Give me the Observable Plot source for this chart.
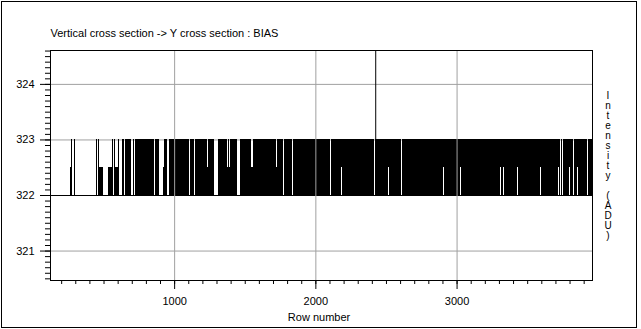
<!DOCTYPE html>
<html>
<head>
<meta charset="utf-8">
<script src="https://cdn.jsdelivr.net/npm/d3@7"></script>
<script src="https://cdn.jsdelivr.net/npm/@observablehq/plot@0.6"></script>
<style>
  body { margin: 0; background: #fff; }
  #wrap { position: relative; width: 641px; height: 329px; }
  #border { position: absolute; left: 1px; top: 1px; width: 636px; height: 327px; box-sizing: border-box; border: 1px solid #000; pointer-events: none; }
</style>
</head>
<body>
<div id="wrap"><div id="chart"></div><div id="border"></div></div>
<script>
// ---- texts ----
const title = "Vertical cross section -> Y cross section : BIAS";
const xLabel = "Row number";
const yLabel = "Intensity (ADU)";

// ---- scales / ticks ----
const rowRange = [121, 3959];
const valueRange = [320.47, 324.61];
const xTicks = [1000, 2000, 3000];
const yTicks = [321, 322, 323, 324];

// ---- signal levels ----
const baseValue = 322;
const highValue = 323;
const halfValue = 322.5;

// isolated switching columns in the left part (rows)
// "full" = switches 322 <-> 323, "low" = reaches only 322.5
const leftStart = [264, 273, 292, 450, 464, 471, 535, 559, 571, 583, 604, 628, 651, 706, 722, 864, 918, 926];
const leftEnd   = [273, 280, 299, 457, 471, 493, 559, 566, 583, 604, 611, 642, 694, 715, 855, 895, 926, 949];
const leftKind  = ["low","full","full","full","full","low","low","full","full","low","full","full","full","full","full","full","low","full"];

// dense switching zone and the gaps inside it (rows)
// "full" = no switching, "top" = only 322..322.5, "bottom" = only 322.5..323
const denseStart = 961;
const denseEnd = 3959;
const gapStart = [1103, 1143, 1230, 1285, 1372, 1387, 1443, 1545, 1718, 1774, 1838, 2101, 2179, 2415, 2514, 2606, 2904, 3025, 3308, 3330, 3429, 3592, 3720, 3734, 3746, 3798, 3826, 3852, 3923];
const gapEnd   = [1110, 1150, 1238, 1313, 1380, 1394, 1467, 1555, 1725, 1781, 1845, 2108, 2186, 2422, 2521, 2613, 2911, 3032, 3315, 3337, 3436, 3599, 3727, 3741, 3753, 3805, 3833, 3859, 3930];
const gapKind  = ["full","full","top","full","top","top","full","top","top","full","full","full","bottom","full","bottom","full","bottom","bottom","bottom","bottom","bottom","bottom","bottom","full","full","bottom","full","bottom","full"];

// single spike
const spikeRow = 2424;
const spikeValue = 325;

// ---- build segments ----
const segs = [];
leftStart.forEach((s, i) => {
  segs.push({x1: s, x2: leftEnd[i], y1: baseValue, y2: leftKind[i] === "low" ? halfValue : highValue});
});
let cursor = denseStart;
gapStart.forEach((s, i) => {
  segs.push({x1: cursor, x2: s, y1: baseValue, y2: highValue});
  if (gapKind[i] === "top") segs.push({x1: s, x2: gapEnd[i], y1: baseValue, y2: halfValue});
  if (gapKind[i] === "bottom") segs.push({x1: s, x2: gapEnd[i], y1: halfValue, y2: highValue});
  cursor = gapEnd[i];
});
segs.push({x1: cursor, x2: denseEnd, y1: baseValue, y2: highValue});

const baseline = rowRange.map(r => ({r, v: baseValue}));
const spike = [{r: spikeRow, v1: highValue, v2: spikeValue}];

const yMinor = d3.range(3205, 3247).map(d => d / 10);
const xMinor = d3.range(2, 40).map(d => d * 100);

const gridColor = "#a0a0a0";
const font = "Arial, 'Liberation Sans', sans-serif";

const chart = Plot.plot({
  width: 641,
  height: 329,
  marginLeft: 50,
  marginRight: 49,
  marginTop: 50,
  marginBottom: 49,
  style: {fontFamily: font, fontSize: "11px", color: "black", background: "white"},
  x: {domain: rowRange},
  y: {domain: valueRange},
  marks: [
    Plot.gridY(yTicks, {stroke: gridColor, strokeOpacity: 1}),
    Plot.rect(segs, {x1: "x1", x2: "x2", y1: "y1", y2: "y2", fill: "black", shapeRendering: "crispEdges"}),
    Plot.line(baseline, {x: "r", y: "v", stroke: "black", strokeWidth: 1}),
    Plot.ruleX(spike, {x: "r", y1: "v1", y2: "v2", stroke: "black", clip: true}),
    Plot.gridX(xTicks, {stroke: gridColor, strokeOpacity: 1}),
    Plot.frame({stroke: "black"}),
    Plot.axisY(yMinor, {tickSize: 5, tickFormat: () => "", label: null}),
    Plot.axisY(yTicks, {tickSize: 10, tickPadding: 6, fontSize: 11, label: null, tickFormat: d => String(d)}),
    Plot.axisX(xMinor, {tickSize: 4, tickFormat: () => "", label: null}),
    Plot.axisX(xTicks, {tickSize: 9, tickPadding: 8, fontSize: 11, label: null, tickFormat: d => String(d)}),
    Plot.text([title], {text: d => d, frameAnchor: "top-left", textAnchor: "start", lineAnchor: "middle", dy: -17, fontSize: 11}),
    Plot.text([xLabel], {text: d => d, frameAnchor: "bottom", lineAnchor: "middle", dy: 37, dx: -2.5, fontSize: 11}),
    Plot.text([yLabel], {text: d => [...d].join("\n"), frameAnchor: "right", textAnchor: "middle", lineAnchor: "middle", dx: 15.5, fontSize: 10, lineHeight: 1})
  ]
});
document.getElementById("chart").appendChild(chart);
</script>
</body>
</html>
